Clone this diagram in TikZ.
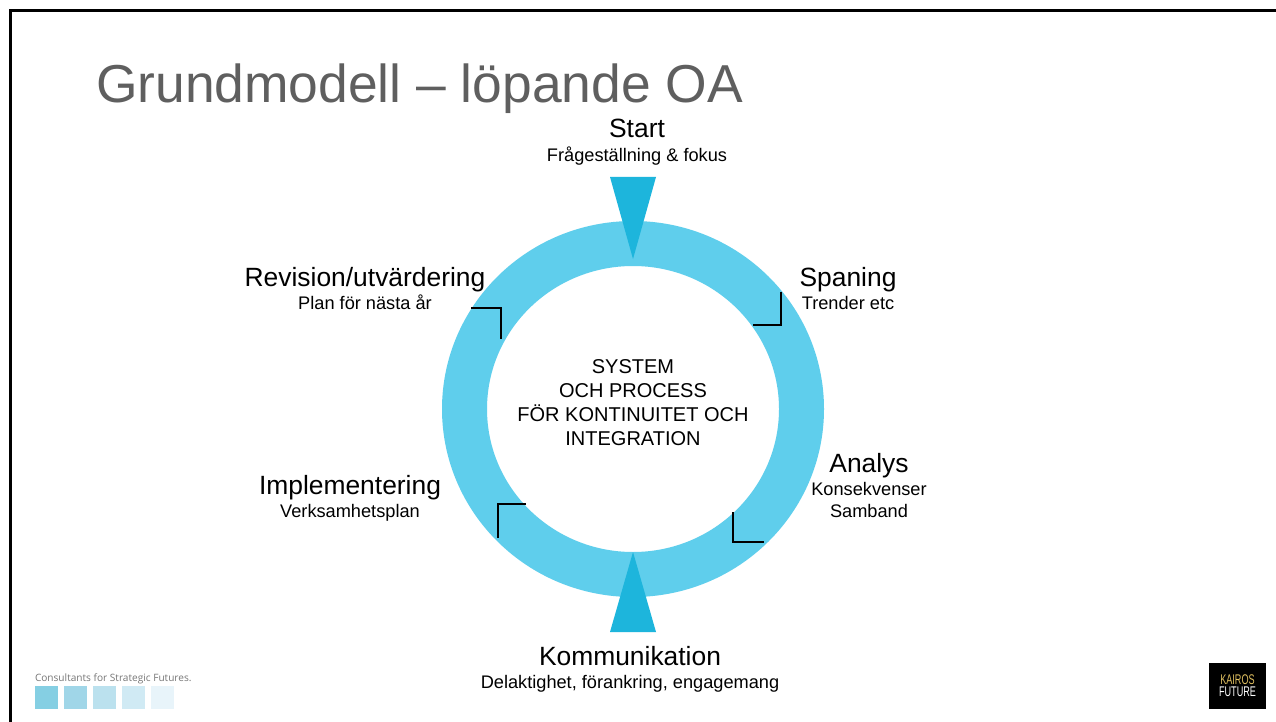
\documentclass[tikz,border=0pt]{standalone}
\usepackage{fontspec}
\setmainfont{Liberation Sans}
\usepackage{tikz}
\usetikzlibrary{positioning}

\definecolor{ringblue}{HTML}{5FCEEC}
\definecolor{wedgeblue}{HTML}{1DB5DC}
\definecolor{titlegrey}{HTML}{5F5F5F}
\definecolor{slogangrey}{HTML}{777777}
\definecolor{kairosgold}{HTML}{E0C060}

\tikzset{
  every node/.style={inner sep=0pt, outer sep=0pt},
  steplabel/.style={anchor=base, font=\fontsize{26.4}{30}\selectfont},
  stepnote/.style={anchor=base, font=\fontsize{18.2}{21}\selectfont},
  wedge/.style={fill=wedgeblue, draw=none},
  cornerline/.style={draw=black, line width=1.4pt},
  swatch/.style={minimum width=23pt, minimum height=23pt, anchor=north west, draw=none}
}

\begin{document}
\begin{tikzpicture}[x=1pt, y=-1pt]
  \useasboundingbox (0,0) rectangle (1276,722);
  \fill[white] (0,0) rectangle (1276,722);
  \coordinate (framebl) at (10,722);
  \coordinate (frametl) at (10,11);
  \coordinate (frametr) at (1276,11);
  \draw[line width=3pt] (framebl) -- (frametl) -- (frametr);

  % ring
  \fill[ringblue, even odd rule] (633,409) ellipse [x radius=191, y radius=188]
                                 (633,409) ellipse [x radius=146, y radius=143];
  \fill[wedge] (610,177) -- (656,177) -- (633,259) -- cycle;
  \fill[wedge] (610,632) -- (656,632) -- (633,552) -- cycle;

  % corners
  \draw[cornerline] (781,292) |- (753,325);
  \draw[cornerline] (471,308) -| (501,339);
  \draw[cornerline] (526,504) -| (498,538);
  \draw[cornerline] (733,512) |- (764,542);

  \node[anchor=base west, text=titlegrey, font=\fontsize{53.4}{60}\selectfont] (title) at (96,103) {Grundmodell – löpande OA};

  \node[steplabel] (start) at (637,138) {Start};
  \node[stepnote] (startnote) at (637,162) {Frågeställning \& fokus};
  \node[steplabel] (spaning) at (848,286) {Spaning};
  \node[stepnote] (spaningnote) at (848,309) {Trender etc};
  \node[steplabel] (analys) at (869,472) {Analys};
  \node[stepnote] (analysnote) at (869,495) {Konsekvenser};
  \node[stepnote] (analysnotb) at (869,517) {Samband};
  \node[steplabel] (komm) at (630,665) {Kommunikation};
  \node[stepnote] (kommnote) at (630,688) {Delaktighet, förankring, engagemang};
  \node[steplabel] (impl) at (350,494) {Implementering};
  \node[stepnote] (implnote) at (350,517) {Verksamhetsplan};
  \node[steplabel] (rev) at (365,286) {Revision/utvärdering};
  \node[stepnote] (revnote) at (365,309) {Plan för nästa år};

  \node[align=center, font=\fontsize{20}{24}\selectfont] (centre) at (633,403)
    {SYSTEM\\OCH PROCESS\\FÖR KONTINUITET OCH\\INTEGRATION};

  % logos
  \node[anchor=base west, text=slogangrey, font=\fontsize{10.1}{12}\selectfont\fontspec{Open Sans}] (slogan) at (35,681) {Consultants for Strategic Futures.};
  \node[swatch, fill={rgb,255:red,133;green,207;blue,227}] (sw1) at (35,686) {};
  \node[swatch, fill={rgb,255:red,160;green,214;blue,232}] (sw2) at (64,686) {};
  \node[swatch, fill={rgb,255:red,187;green,225;blue,238}] (sw3) at (93,686) {};
  \node[swatch, fill={rgb,255:red,208;green,234;blue,244}] (sw4) at (122,686) {};
  \node[swatch, fill={rgb,255:red,232;green,244;blue,250}] (sw5) at (151,686) {};

  \node[fill=black, minimum width=57pt, minimum height=46pt, anchor=north west] (kairosbox) at (1209,663) {};
  \node[text=kairosgold, font=\fontsize{14}{16}\selectfont] (kairos) at (1237.5,680) {\scalebox{0.65}[1]{KAIROS}};
  \node[text=white, font=\fontsize{14}{16}\selectfont] (future) at (1237.5,692) {\scalebox{0.65}[1]{FUTURE}};
\end{tikzpicture}
\end{document}
